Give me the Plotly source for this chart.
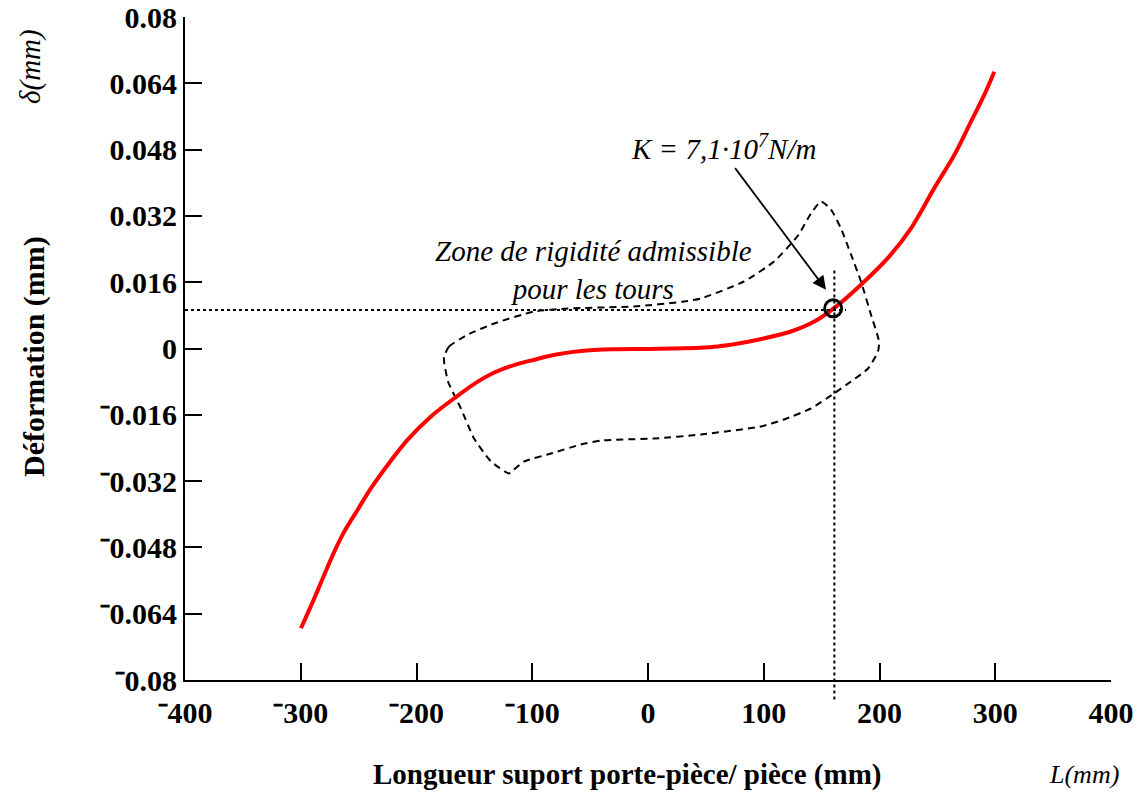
import plotly.graph_objects as go

# ---------------- data ----------------
# red deformation curve (L in mm, delta in mm)
curve_x = [-299.8, -288.3, -279.7, -271.0, -262.4, -250.8, -239.3, -224.9, -207.6, -187.5,
           -167.3, -147.1, -132.8, -115.8, -98.2, -78.0, -57.9, -30.0, 0.0, 20.0, 45.0, 60.2, 78.0, 94.8, 123.5,
           143.7, 161.0, 184.0, 207.1, 227.2, 247.3, 264.6, 279.1, 290.5, 299.2]
curve_y = [-0.0675, -0.0603, -0.0546, -0.0490, -0.0442, -0.0389, -0.0337, -0.0281, -0.0220, -0.0164,
           -0.0120, -0.0080, -0.0058, -0.0040, -0.0027, -0.0014, -0.0006, -0.0002, -0.0001, 0.0, 0.0002, 0.0005, 0.0012, 0.0021, 0.0041,
           0.0065, 0.0098, 0.0154, 0.0218, 0.0290, 0.0387, 0.0467, 0.0548, 0.0612, 0.0668]

# dashed "admissible stiffness zone" outline
zone_x = [-176.2, -171.9, -155.5, -133.0, -98.5, -69.1, -12.1, 31.1, 45.8, 82.9,
          108.9, 129.6, 140.8, 149.5, 158.1, 166.7, 175.4, 184.0, 192.6, 199.6,
          198.7, 190.1, 175.4, 160.7, 140.8, 117.5, 97.6, 45.8, 5.2, -40.6,
          -57.9, -83.8, -107.1, -115.8, -120.1, -135.6, -150.3, -161.6, -167.6, -172.8,
          -176.2, -176.2]
zone_y = [-0.00193, 0.00048, 0.00338, 0.00603, 0.00893, 0.00965, 0.01014, 0.01134, 0.01207, 0.01617,
          0.02099, 0.02727, 0.03258, 0.03547, 0.03354, 0.02896, 0.02268, 0.01617, 0.00820, 0.00169,
          -0.00072, -0.00483, -0.00796, -0.01086, -0.01448, -0.01713, -0.01882, -0.02075, -0.02172, -0.02220,
          -0.02317, -0.02534, -0.02727, -0.02920, -0.03016, -0.02727, -0.02172, -0.01448, -0.01110, -0.00796,
          -0.00314, -0.00193]

# operating point
point_x = [160]
point_y = [0.0097]
guide_y = 0.0093          # horizontal dotted guide level
guide_x = 161             # vertical dotted guide position
guide_x_end = 171
guide_v_top = 0.0194
guide_v_bottom = -0.0847

# axes
XMIN, XMAX = -400, 400
YMIN, YMAX = -0.08, 0.08
x_tickvals = [-400, -300, -200, -100, 0, 100, 200, 300, 400]
x_ticktext = ["\u207b400", "\u207b300", "\u207b200", "\u207b100", "0", "100", "200", "300", "400"]
y_tickvals = [-0.08, -0.064, -0.048, -0.032, -0.016, 0, 0.016, 0.032, 0.048, 0.064, 0.08]
y_ticktext = ["\u207b0.08", "\u207b0.064", "\u207b0.048", "\u207b0.032", "\u207b0.016", "0",
              "0.016", "0.032", "0.048", "0.064", "0.08"]

# annotation anchors
k_label = "K = 7,1\u00b710<sup>7</sup>N/m"
k_label_pos = (65, 0.0487)
arrow_tail = (74.3, 0.0439)
arrow_head = (153.8, 0.0142)
zone_label = "Zone de rigidité admissible<br>pour les tours"
zone_label_pos = (-46.7, 0.0190)

SERIF = "Liberation Serif, Times New Roman, serif"

fig = go.Figure()

fig.add_trace(go.Scatter(x=zone_x, y=zone_y, mode="lines",
                         line=dict(color="black", width=2, dash="7px,5px", shape="spline", smoothing=0.5),
                         hoverinfo="skip", showlegend=False))
fig.add_trace(go.Scatter(x=curve_x, y=curve_y, mode="lines",
                         line=dict(color="#ff0000", width=4, shape="spline", smoothing=1.0),
                         showlegend=False))
fig.add_trace(go.Scatter(x=point_x, y=point_y, mode="markers",
                         marker=dict(symbol="circle-open", size=17, color="black", line=dict(width=3)),
                         showlegend=False))

# dotted guides
fig.add_shape(type="line", xref="x", yref="y", x0=XMIN, x1=guide_x_end, y0=guide_y, y1=guide_y,
              line=dict(color="black", width=2, dash="dot"))
fig.add_shape(type="line", xref="x", yref="paper", x0=guide_x, x1=guide_x,
              y0=(guide_v_bottom - YMIN) / (YMAX - YMIN), y1=(guide_v_top - YMIN) / (YMAX - YMIN),
              line=dict(color="black", width=2, dash="dot"))

annotations = [
    dict(x=arrow_head[0], y=arrow_head[1], ax=arrow_tail[0], ay=arrow_tail[1],
         xref="x", yref="y", axref="x", ayref="y", text="", showarrow=True,
         arrowhead=2, arrowsize=1.5, arrowwidth=1.8, arrowcolor="black"),
    dict(x=k_label_pos[0], y=k_label_pos[1], xref="x", yref="y", text=k_label, showarrow=False,
         xanchor="center", yanchor="middle",
         font=dict(family=SERIF, size=29, style="italic", color="black")),
    dict(x=zone_label_pos[0], y=zone_label_pos[1], xref="x", yref="y", text=zone_label, showarrow=False,
         xanchor="center", yanchor="middle",
         font=dict(family=SERIF, size=29, style="italic", color="black"), align="center"),
    dict(x=-0.1631, y=0.4887, xref="paper", yref="paper", text="<b>Déformation (mm)</b>", textangle=-90,
         xanchor="center", yanchor="middle",
         showarrow=False, font=dict(family=SERIF, size=30, color="black")),
    dict(x=-0.1663, y=0.9246, xref="paper", yref="paper", text="δ(mm)", textangle=-90,
         xanchor="center", yanchor="middle",
         showarrow=False, font=dict(family=SERIF, size=29, style="italic", color="black")),
    dict(x=0.4784, y=-0.1418, xref="paper", yref="paper", text="<b>Longueur suport porte-pièce/ pièce (mm)</b>",
         xanchor="center", yanchor="middle",
         showarrow=False, font=dict(family=SERIF, size=29, color="black")),
    dict(x=0.9708, y=-0.1418, xref="paper", yref="paper", text="L(mm)",
         xanchor="center", yanchor="middle",
         showarrow=False, font=dict(family=SERIF, size=26, style="italic", color="black")),
]

fig.update_layout(
    width=1147, height=792,
    margin=dict(l=177, r=44, t=9, b=120, autoexpand=False),
    paper_bgcolor="white", plot_bgcolor="white",
    showlegend=False,
    annotations=annotations,
    font=dict(family=SERIF, color="black"),
)

fig.update_xaxes(range=[XMIN, XMAX], tickvals=x_tickvals, ticktext=x_ticktext, automargin=False,
                 showgrid=False, zeroline=False, showline=True, linecolor="black", linewidth=2,
                 ticks="inside", ticklen=17, tickwidth=2, tickcolor="black",
                 tickfont=dict(family=SERIF, size=30, weight="bold", color="black"),
                 ticklabelstandoff=5, ticklabeloverflow="allow")
fig.update_yaxes(range=[YMIN, YMAX], tickvals=y_tickvals, ticktext=y_ticktext, automargin=False,
                 showgrid=False, zeroline=False, showline=True, linecolor="black", linewidth=2,
                 ticks="inside", ticklen=17, tickwidth=2, tickcolor="black",
                 tickfont=dict(family=SERIF, size=30, weight="bold", color="black"),
                 ticklabelstandoff=0, ticklabeloverflow="allow")

fig.write_html("out.html")
